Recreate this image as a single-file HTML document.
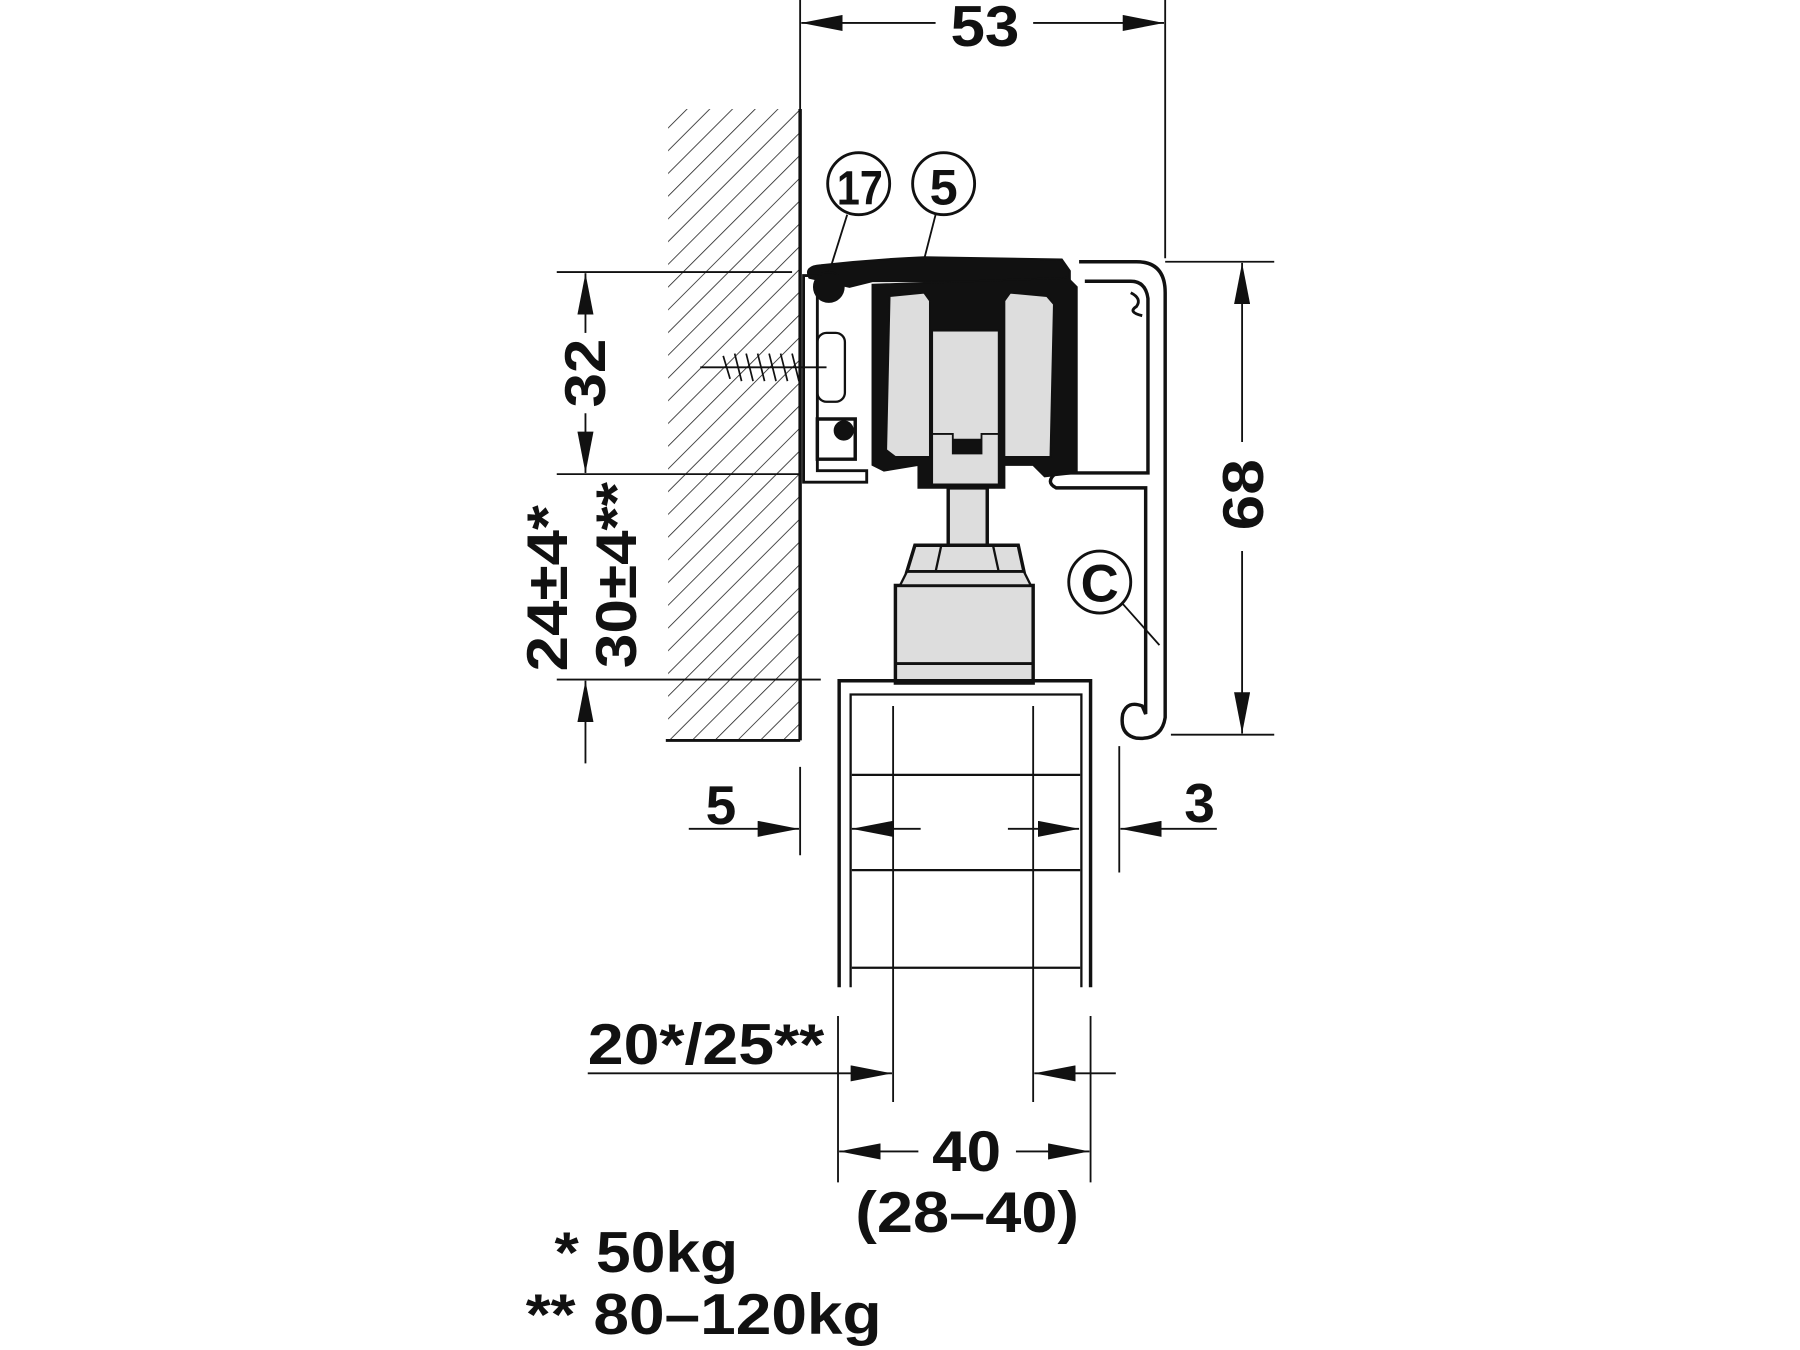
<!DOCTYPE html>
<html><head><meta charset="utf-8"><style>
html,body{margin:0;padding:0;background:#fff;width:1800px;height:1350px;overflow:hidden}
svg{display:block}
text{font-family:"Liberation Sans Narrow","Liberation Sans",sans-serif;font-weight:bold;fill:#111}
</style></head><body>
<svg width="1800" height="1350" viewBox="0 0 1568 1176" xmlns="http://www.w3.org/2000/svg">
<defs>
<pattern id="h" patternUnits="userSpaceOnUse" width="14" height="14" patternTransform="rotate(45)">
<line x1="0" y1="0" x2="0" y2="14" stroke="#222" stroke-width="1.4"/>
</pattern>
<marker id="a" viewBox="0 0 36 14" refX="36" refY="7" markerWidth="36" markerHeight="14" markerUnits="userSpaceOnUse" orient="auto"><path d="M0,0L36,7L0,14z" fill="#111"/></marker>
</defs>
<g stroke="#111" fill="none" stroke-width="1.6">
<rect x="582" y="95" width="115" height="550" fill="url(#h)" stroke="none"/>
<line x1="697" y1="95" x2="697" y2="645" stroke-width="3"/>
<line x1="580" y1="645" x2="697" y2="645" stroke-width="2.5"/>
<line x1="697" y1="0" x2="697" y2="95"/>
<line x1="1015" y1="0" x2="1015" y2="225"/>
<line x1="815" y1="20" x2="698" y2="20" marker-end="url(#a)"/>
<line x1="900" y1="20" x2="1014" y2="20" marker-end="url(#a)"/>
<line x1="485" y1="237" x2="690" y2="237"/>
<line x1="485" y1="413" x2="697" y2="413"/>
<line x1="510" y1="290" x2="510" y2="238" marker-end="url(#a)"/>
<line x1="510" y1="360" x2="510" y2="412" marker-end="url(#a)"/>
<line x1="485" y1="592" x2="715" y2="592"/>
<line x1="510" y1="665" x2="510" y2="593" marker-end="url(#a)"/>
<line x1="1015" y1="228" x2="1110" y2="228"/>
<line x1="1020" y1="640" x2="1110" y2="640"/>
<line x1="1082" y1="385" x2="1082" y2="229" marker-end="url(#a)"/>
<line x1="1082" y1="480" x2="1082" y2="639" marker-end="url(#a)"/>
<path d="M705,242 Q700,232 715,231 Q760,226 805,224 L925,226 L932,236 L932,245 L760,245 L740,250 Z" fill="#111"/>
<path d="M700,240 L712,240 L712,410 L755,410 L755,420 L700,420 Z" stroke-width="2.5"/>
<circle cx="722" cy="250" r="13" fill="#111"/>
<rect x="712" y="290" width="24" height="60" rx="8" stroke-width="2"/>
<path d="M712,365 L745,365 L745,400 L712,400 Z" stroke-width="3"/>
<circle cx="735" cy="375" r="8" fill="#111"/>
<line x1="610" y1="320" x2="720" y2="320"/>
<path d="M630,310 l6,20 M640,308 l6,24 M650,308 l6,24 M660,308 l6,24 M670,308 l6,24 M680,308 l6,24 M690,308 l6,24" stroke-width="1.5"/>
<path d="M760,248 L930,242 L938,250 L938,412 L910,415 L900,405 L875,405 L875,425 L800,425 L800,405 L770,410 L760,405 Z" fill="#111"/>
<path d="M775,258 L805,255 L810,262 L810,398 L780,398 L772,392 Z" fill="#ddd" stroke-width="1.5"/>
<path d="M875,262 L880,255 L912,258 L918,265 L915,398 L875,398 Z" fill="#ddd" stroke-width="1.5"/>
<rect x="812" y="288" width="58" height="95" fill="#ddd"/>
<path d="M812,378 L830,378 L830,395 L855,395 L855,378 L870,378 L870,422 L812,422 Z" fill="#ddd"/>
<path d="M940,228 L990,228 Q1015,228 1015,255 L1015,625 Q1012,645 990,643 Q975,640 978,622 Q982,610 995,615 L998,622 L998,425 L920,425 Q910,420 920,412 L1000,412 L1000,260 Q998,245 985,245 L945,245" stroke-width="3"/>
<path d="M985,255 q10,5 5,12 q-8,5 5,8" stroke-width="2.5"/>
<rect x="826" y="425" width="34" height="50" fill="#ddd" stroke-width="3"/>
<path d="M797,475 L887,475 L892,498 L790,498 Z" fill="#ddd" stroke-width="3"/>
<line x1="820" y1="475" x2="815" y2="498" stroke-width="2"/><line x1="865" y1="475" x2="870" y2="498" stroke-width="2"/>
<rect x="780" y="510" width="120" height="85" fill="#ddd" stroke-width="3"/>
<path d="M790,498 L892,498 L898,510 L784,510 Z" fill="#ddd" stroke-width="2"/>
<line x1="780" y1="578" x2="900" y2="578" stroke-width="2.5"/>
<path d="M731,860 L731,593 L950,593 L950,860" stroke-width="3"/>
<path d="M741,860 L741,605 L942,605 L942,860" stroke-width="2"/>
<line x1="778" y1="615" x2="778" y2="960"/>
<line x1="900" y1="615" x2="900" y2="960"/>
<line x1="742" y1="675" x2="941" y2="675" stroke-width="2"/>
<line x1="742" y1="758" x2="941" y2="758" stroke-width="2"/>
<line x1="742" y1="843" x2="941" y2="843" stroke-width="2"/>
<line x1="697" y1="668" x2="697" y2="745"/>
<line x1="600" y1="722" x2="696" y2="722" marker-end="url(#a)"/>
<line x1="975" y1="650" x2="975" y2="760"/>
<line x1="1060" y1="722" x2="976" y2="722" marker-end="url(#a)"/>
<line x1="802" y1="722" x2="742" y2="722" marker-end="url(#a)"/>
<line x1="878" y1="722" x2="940" y2="722" marker-end="url(#a)"/>
<line x1="730" y1="885" x2="730" y2="1030"/>
<line x1="950" y1="885" x2="950" y2="1030"/>
<line x1="512" y1="935" x2="777" y2="935" marker-end="url(#a)"/>
<line x1="972" y1="935" x2="901" y2="935" marker-end="url(#a)"/>
<line x1="800" y1="1003" x2="731" y2="1003" marker-end="url(#a)"/>
<line x1="885" y1="1003" x2="949" y2="1003" marker-end="url(#a)"/>
<circle cx="748" cy="160" r="27" stroke-width="2.5"/>
<circle cx="822" cy="160" r="27" stroke-width="2.5"/>
<circle cx="958" cy="507" r="27" stroke-width="2.5"/>
<line x1="738" y1="187" x2="722" y2="238"/>
<line x1="815" y1="187" x2="805" y2="226"/>
<line x1="978" y1="526" x2="1010" y2="562"/>
</g>
<text x="828" y="40" font-size="50" textLength="60" lengthAdjust="spacingAndGlyphs">53</text>
<text x="729" y="178" font-size="42" textLength="40" lengthAdjust="spacingAndGlyphs">17</text>
<text x="822" y="178" font-size="44" text-anchor="middle">5</text>
<text x="958" y="524" font-size="46" text-anchor="middle">C</text>
<text transform="translate(527,355) rotate(-90)" font-size="50" textLength="60" lengthAdjust="spacingAndGlyphs">32</text>
<text transform="translate(494,585) rotate(-90)" font-size="50" textLength="145" lengthAdjust="spacingAndGlyphs">24±4*</text>
<text transform="translate(554,582) rotate(-90)" font-size="50" textLength="162" lengthAdjust="spacingAndGlyphs">30±4**</text>
<text transform="translate(1100,462) rotate(-90)" font-size="50" textLength="62" lengthAdjust="spacingAndGlyphs">68</text>
<text x="628" y="718" font-size="48" text-anchor="middle">5</text>
<text x="1045" y="716" font-size="48" text-anchor="middle">3</text>
<text x="512" y="927" font-size="50" textLength="206" lengthAdjust="spacingAndGlyphs">20*/25**</text>
<text x="812" y="1020" font-size="50" textLength="60" lengthAdjust="spacingAndGlyphs">40</text>
<text x="745" y="1073" font-size="50" textLength="195" lengthAdjust="spacingAndGlyphs">(28–40)</text>
<text x="483" y="1108" font-size="50" textLength="160" lengthAdjust="spacingAndGlyphs">* 50kg</text>
<text x="458" y="1162" font-size="50" textLength="310" lengthAdjust="spacingAndGlyphs">** 80–120kg</text>
</svg>
</body></html>
